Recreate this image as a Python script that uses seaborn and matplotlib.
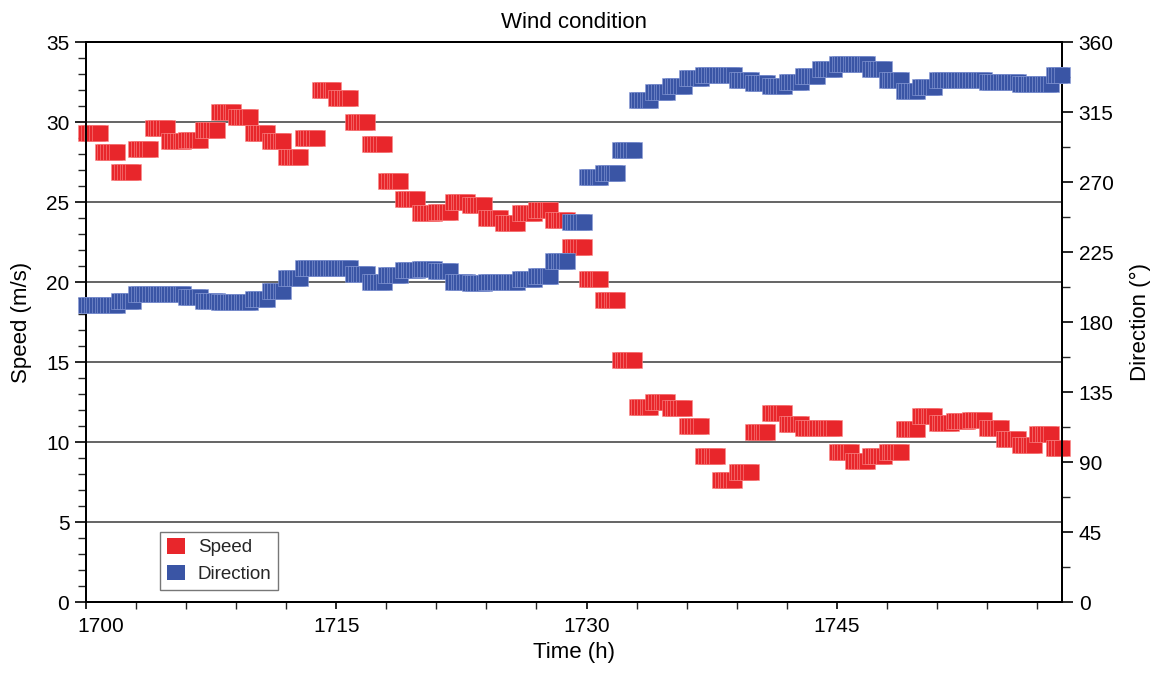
import numpy as np
import pandas as pd
import matplotlib
matplotlib.use("Agg")
import matplotlib.pyplot as plt
from matplotlib.ticker import MultipleLocator
from matplotlib.patches import Patch
from matplotlib.transforms import ScaledTranslation
import seaborn as sns

# Hourly wind record (value per hour starting at 1700 h)
hours = list(range(1700, 1759))
speed = [29.3, 28.1, 26.9, 28.3, 29.6, 28.8, 28.9, 29.5, 30.6, 30.3,
         29.3, 28.8, 27.8, 29.0, 32.0, 31.5, 30.0, 28.6, 26.3, 25.2,
         24.3, 24.4, 25.0, 24.8, 24.0, 23.7, 24.3, 24.5, 23.9, 22.2,
         20.2, 18.9, 15.1, 12.2, 12.5, 12.1, 11.0, 9.1, 7.6, 8.1,
         10.6, 11.8, 11.1, 10.9, 10.9, 9.4, 8.8, 9.1, 9.4, 10.8,
         11.6, 11.2, 11.3, 11.4, 10.9, 10.2, 9.8, 10.5, 9.6]
direction = [191, 191, 193.6, 198, 198, 198, 196, 193.6, 193, 193,
             195, 200, 208.6, 215, 215, 215, 211, 206, 210, 213.5,
             214, 213, 206, 205, 206, 206, 207.6, 209.6, 219, 244,
             273, 276, 290.6, 322.7, 328, 332, 337, 339, 339, 335.6,
             333.6, 332, 334, 338, 342.6, 346, 346, 342.6, 335.7, 328.6,
             330.8, 335.7, 335.7, 335.7, 334.6, 334.6, 333, 333, 339]
time_ticks = [1700, 1715, 1730, 1745]

# Each hourly value is logged every 10 minutes; record ends at 1758.5 h
samples_per_hour = 6
t_end = 1758.5

SPEED_RED = "#E8262B"
DIR_BLUE = "#3A55A5"

rows = []
for h, s, d in zip(hours, speed, direction):
    for k in range(samples_per_hour):
        t = h + k / samples_per_hour
        if t <= t_end + 1e-9:
            rows.append((t, s, d))
df = pd.DataFrame(rows, columns=["time", "speed", "direction"])

sns.set_theme(style="white")
plt.rcParams["font.family"] = ["Liberation Sans", "DejaVu Sans"]

fig = plt.figure(figsize=(11.57, 6.79), dpi=100)
ax = fig.add_axes([86 / 1157, 1 - 602 / 679, (1062 - 86) / 1157, (602 - 42) / 679])
ax2 = ax.twinx()

marker_area = 128
sns.scatterplot(data=df, x="time", y="speed", ax=ax, marker="s", s=marker_area,
                color=SPEED_RED, edgecolor=(0.98, 0.55, 0.55, 0.8), linewidth=0.5,
                clip_on=False, legend=False, zorder=3)
sns.scatterplot(data=df, x="time", y="direction", ax=ax2, marker="s", s=marker_area,
                color=DIR_BLUE, edgecolor=(0.55, 0.62, 0.85, 0.8), linewidth=0.5,
                clip_on=False, legend=False, zorder=3)

ax.set_xlim(1700, t_end)
ax.set_ylim(0, 35)
ax2.set_ylim(0, 360)

ax.set_xticks(time_ticks)
ax.set_xticks(np.arange(time_ticks[0], t_end, 3), minor=True)
ax.yaxis.set_major_locator(MultipleLocator(5))
ax.yaxis.set_minor_locator(MultipleLocator(1))
ax2.yaxis.set_major_locator(MultipleLocator(45))
ax2.yaxis.set_minor_locator(MultipleLocator(22.5))

# Horizontal reference lines at the speed ticks
for v in range(5, 35, 5):
    ax.axhline(v, color="#3a3a3a", lw=1.1, zorder=1)

for a in (ax, ax2):
    for sp in a.spines.values():
        sp.set_color("black")
        sp.set_linewidth(1.4)

fs = 15
ax.tick_params(axis="x", which="major", direction="out", length=5, width=1.2,
               labelsize=fs, pad=6, colors="black", bottom=True)
ax.tick_params(axis="x", which="minor", direction="out", length=5, width=1.0,
               bottom=True)
ax.tick_params(axis="y", which="major", direction="out", length=8, width=1.2,
               labelsize=fs, pad=4, colors="black", left=True)
ax.tick_params(axis="y", which="minor", direction="out", length=6, width=1.0,
               left=True)
ax2.tick_params(axis="y", which="major", direction="out", length=8, width=1.2,
                labelsize=fs, pad=4, colors="black", right=True)
ax2.tick_params(axis="y", which="minor", direction="out", length=6, width=1.0,
                right=True)

# Keep the first time label clear of the corner
first_label = ax.get_xticklabels()[0]
first_label.set_transform(first_label.get_transform() +
                          ScaledTranslation(15 / 100, 0, fig.dpi_scale_trans))

ax.set_xlabel("Time (h)", fontsize=fs + 1, color="black", labelpad=4)
ax.set_ylabel("Speed (m/s)", fontsize=fs + 1, color="black", labelpad=10)
ax2.set_ylabel("Direction (°)", fontsize=fs + 1, color="black", labelpad=12)
ax.set_title("Wind condition", fontsize=fs + 1, color="black", pad=10)

handles = [Patch(facecolor=SPEED_RED, edgecolor="none", label="Speed"),
           Patch(facecolor=DIR_BLUE, edgecolor="none", label="Direction")]
leg = ax2.legend(handles=handles, loc="lower left", bbox_to_anchor=(0.076, 0.022),
                 fontsize=13.5, frameon=True, fancybox=False, framealpha=1,
                 handlelength=1.0, handleheight=0.9, handletextpad=0.65,
                 borderpad=0.35, labelspacing=0.45, borderaxespad=0)
leg.get_frame().set_edgecolor("#777777")
leg.get_frame().set_linewidth(1.0)
leg.set_zorder(5)

fig.savefig("out.png", dpi=100)
